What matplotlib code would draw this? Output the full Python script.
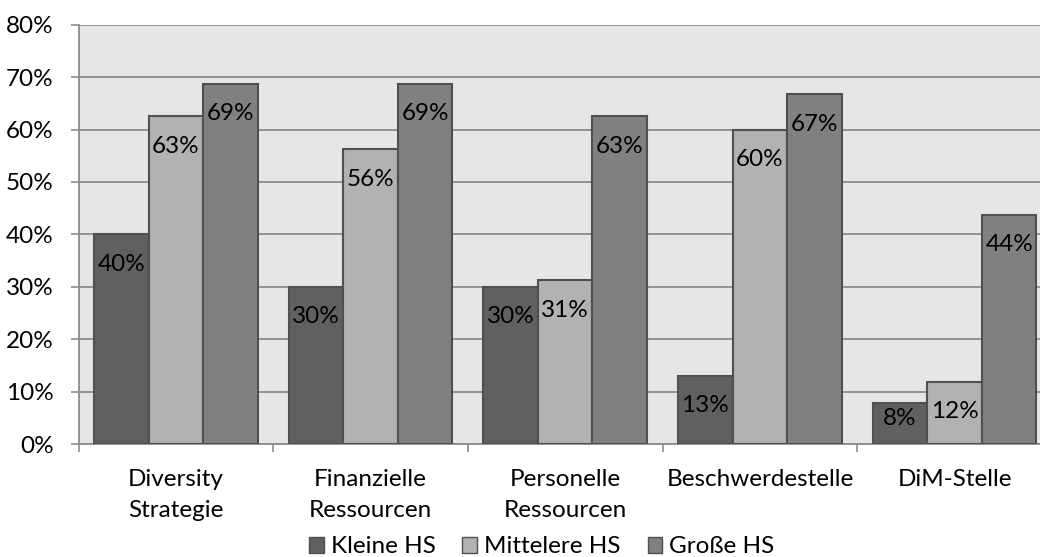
import matplotlib
matplotlib.use("Agg")
import matplotlib.pyplot as plt
from matplotlib.patches import Patch
import numpy as np

plt.rcParams['font.family'] = ['Lato', 'DejaVu Sans']

categories = ['Diversity\nStrategie', 'Finanzielle\nRessourcen', 'Personelle\nRessourcen',
              'Beschwerdestelle', 'DiM-Stelle']
series_names = ['Kleine HS', 'Mittelere HS', 'Große HS']
kleine = [40.0, 30.0, 30.0, 13.1, 7.9]
mittelere = [62.5, 56.25, 31.25, 60.0, 11.9]
grosse = [68.75, 68.75, 62.5, 66.7, 43.75]
y_ticks = [0, 10, 20, 30, 40, 50, 60, 70, 80]

colors = ['#606060', '#b2b2b2', '#808080']
edge = '#505050'
grid_col = '#8c8c8c'
bg = '#e6e6e6'
fs = 17.5

fig = plt.figure(figsize=(10.4, 5.57), dpi=100)
ax = fig.add_axes([0.0755, 0.202, 0.936, 0.754])
ax.set_facecolor(bg)

x = np.arange(len(categories))
width = 0.28
for i, (vals, col) in enumerate(zip([kleine, mittelere, grosse], colors)):
    pos = x + (i - 1) * width
    ax.bar(pos, vals, width, color=col, edgecolor=edge, linewidth=1.5, zorder=3)
    for px, v in zip(pos, vals):
        # Excel style rounding (half up)
        ax.text(px, max(v - 5.7, 5.0), '%d%%' % int(v + 0.5), ha='center', va='center',
                fontsize=fs, color='black', zorder=4)

ax.set_xlim(-0.5, len(categories) - 0.5)
ax.set_ylim(0, 80)
ax.set_yticks(y_ticks)
ax.set_yticklabels(['%d%%' % t for t in y_ticks], fontsize=fs)
ax.yaxis.grid(True, color=grid_col, linewidth=1.3, zorder=0)
ax.set_axisbelow(True)

ax.set_xticks(x)
ax.set_xticklabels(categories, fontsize=fs, linespacing=1.55)
ax.set_xticks(np.arange(-0.5, len(categories)), minor=True)
ax.tick_params(axis='x', which='major', length=0, pad=18)
ax.tick_params(axis='x', which='minor', length=6, color=grid_col, width=1.2)
ax.tick_params(axis='y', length=6, color=grid_col, width=1.2, pad=12)

for s in ['top', 'right']:
    ax.spines[s].set_visible(False)
for s in ['left', 'bottom']:
    ax.spines[s].set_color(grid_col)
    ax.spines[s].set_linewidth(1.3)

handles = [Patch(facecolor=c, edgecolor=edge, linewidth=1.0) for c in colors]
fig.legend(handles, series_names, loc='center', bbox_to_anchor=(0.521, 0.018), ncol=3,
           frameon=False, fontsize=fs, handlelength=0.6, handleheight=0.6,
           handletextpad=0.3, columnspacing=1.1, borderpad=0)

fig.savefig('out.png', dpi=100)
